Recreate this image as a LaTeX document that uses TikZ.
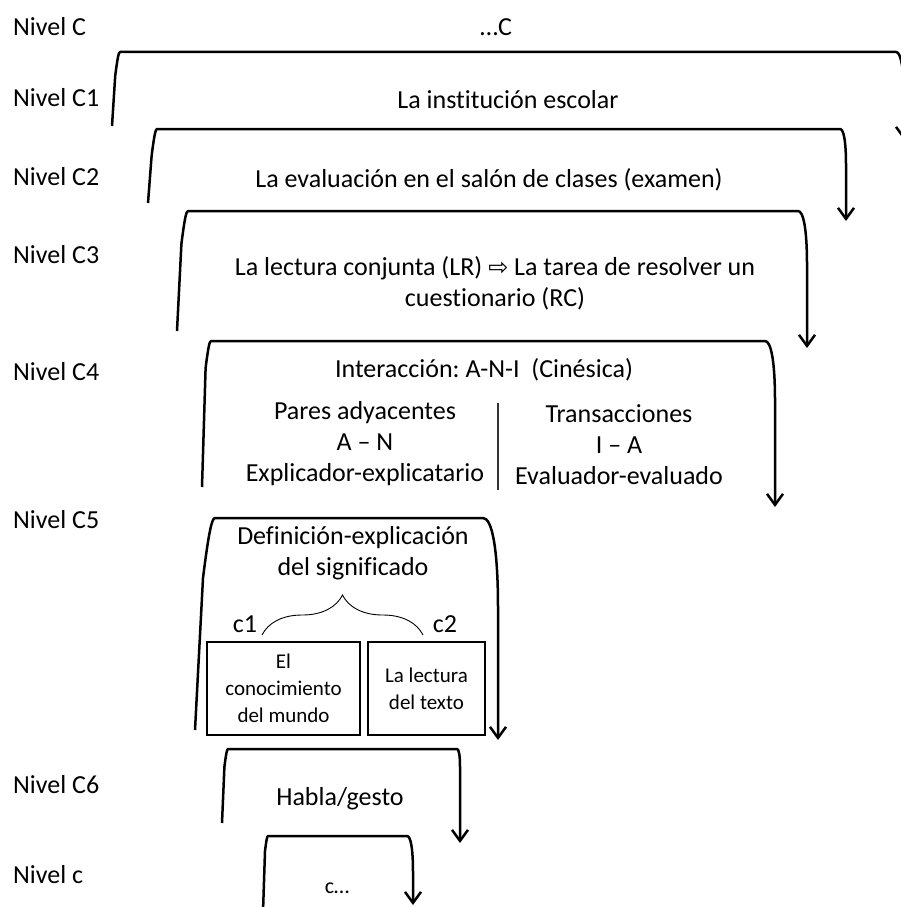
\documentclass[tikz,border=0pt]{standalone}
\usepackage{fontspec}
\setmainfont{Carlito}[Ligatures=CommonOff]
\newfontfamily\arrowfont{DejaVu Sans}
\usetikzlibrary{arrows.meta,decorations.pathreplacing}
\frenchspacing

% One level bracket: left leg bottom (x,y), left corner x, top y,
% right corner x, right leg x, arrow tip y
\newcommand\lvlbracket[7]{%
  \draw[bracket] (#1,#2) -- ({#1+0.4*(#3-#1)},{#4+3*(#3-#1)})
    .. controls ({#1+0.7*(#3-#1)},{#4+0.6*(#3-#1)}) and ({#1+0.85*(#3-#1)},#4) .. (#3,#4)
    -- (#5,#4)
    .. controls ({#5+0.6*(#6-#5)},#4) and (#6,{#4+2*(#6-#5)}) .. (#6,{#4+6*(#6-#5)})
    -- (#6,#7);}

\begin{document}
\begin{tikzpicture}[x=1pt,y=-1pt,
  lvl/.style={anchor=west,inner sep=0pt,font=\fontsize{26}{31}\selectfont},
  txt/.style={inner sep=0pt,align=center,font=\fontsize{26}{31}\selectfont},
  boxtxt/.style={inner sep=0pt,align=center,font=\fontsize{22}{27}\selectfont},
  framebox/.style={draw,line width=1.8pt,inner sep=0pt,align=center,
    font=\fontsize{21}{27}\selectfont,minimum height=93pt},
  bracket/.style={line width=2.5pt,line join=round,
    -{Straight Barb[length=11pt,width=16pt]}},
  divider/.style={line width=1.2pt,black!80},
  bracegroup/.style={line width=0.9pt,decorate,
    decoration={brace,amplitude=40pt}}]

\fill[white] (0,0) rectangle (901,907);
\useasboundingbox (0,0) rectangle (901,907);

% level labels
\node[lvl] (nC)  at (13,27)  {Nivel C};
\node[lvl] (nC1) at (13,98)  {Nivel C1};
\node[lvl] (nC2) at (13,177) {Nivel C2};
\node[lvl] (nC3) at (13,255) {Nivel C3};
\node[lvl] (nC4) at (13,372) {Nivel C4};
\node[lvl] (nC5) at (13,520) {Nivel C5};
\node[lvl] (nC6) at (13,785) {Nivel C6};
\node[lvl] (nc)  at (13,875) {Nivel c};

% nested brackets
\lvlbracket{112}{126}{120}{52}{896}{904}{140}
\lvlbracket{148}{203}{157}{129}{840}{846}{221}
\lvlbracket{177}{331}{188}{211}{798}{807}{348}
\lvlbracket{202}{487}{211}{341}{765}{775}{507}
\lvlbracket{195}{730}{215}{518}{483}{498}{740}
\lvlbracket{222}{823}{228}{749}{457}{460}{843}
\lvlbracket{263}{912}{268}{836}{407}{413}{905}

% contents of each level
\node[txt] (topC) at (496,27) {…C};
\node[txt] (t1) at (508,100) {La institución escolar};
\node[txt] (t2) at (489,180) {La evaluación en el salón de clases (examen)};
\node[txt] (t3) at (495,283) {La lectura conjunta (LR) {\arrowfont\fontsize{24}{28}\selectfont ⇨} La tarea de resolver un\\cuestionario (RC)};
\node[txt] (t4) at (484,370) {Interacción: A-N-I\ \ (Cinésica)};
\node[txt] (t4l) at (365,444) {Pares adyacentes\\A – N\\Explicador-explicatario};
\node[txt] (t4r) at (619,445) {Transacciones\\I – A\\Evaluador-evaluado};
\coordinate (dtop) at (498,403);
\coordinate (dbot) at (498,490);
\draw[divider] (dtop) -- (dbot);

\node[txt] (t5) at (353,553) {Definición-explicación\\del significado};
\coordinate (brL) at (262,635);
\coordinate (brR) at (423,635);
\draw[bracegroup] (brL) -- (brR);
\node[txt] (c1) at (245,624) {c1};
\node[txt] (c2) at (445,624) {c2};
\node[framebox,minimum width=153pt] (b1) at (283.5,688.5) {El\\conocimiento\\del mundo};
\node[framebox,minimum width=117pt] (b2) at (426.5,688.5) {La lectura\\del texto};

\node[txt] (t6) at (340,799) {Habla/gesto};
\node[boxtxt] (t7) at (337,888) {c…};
\end{tikzpicture}
\end{document}
